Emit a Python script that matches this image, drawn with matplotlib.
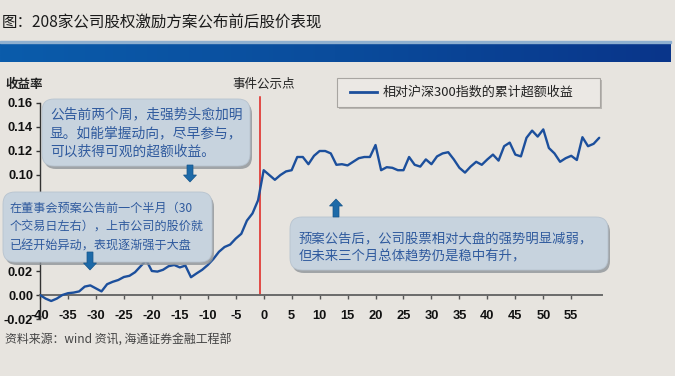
import matplotlib
matplotlib.use("Agg")
import matplotlib.pyplot as plt
import numpy as np
from matplotlib.patches import FancyBboxPatch, FancyArrow, Rectangle
from matplotlib.colors import LinearSegmentedColormap

plt.rcParams['font.family'] = ['Noto Sans CJK SC', 'DejaVu Sans']

# ---- data ----
days = list(range(-40, 61))
excess_return = [
    0.000, -0.003, -0.005, -0.003, 0.000, 0.0015, 0.002, 0.003, 0.007, 0.008,   # -40..-31
    0.0055, 0.003, 0.009, 0.011, 0.0125, 0.015, 0.016, 0.019, 0.024, 0.029,   # -30..-21
    0.020, 0.0195, 0.021, 0.024, 0.025, 0.023, 0.0245, 0.0148, 0.018, 0.021,  # -20..-11
    0.025, 0.030, 0.036, 0.040, 0.042, 0.047, 0.051, 0.062, 0.068, 0.079,     # -10..-1
    0.104, 0.100, 0.096, 0.100, 0.103, 0.104, 0.115, 0.115, 0.109, 0.116,     # 0..9
    0.120, 0.120, 0.118, 0.1085, 0.109, 0.108, 0.111, 0.114, 0.115, 0.115,    # 10..19
    0.125, 0.104, 0.1065, 0.106, 0.104, 0.104, 0.115, 0.1085, 0.107, 0.113,   # 20..29
    0.109, 0.1155, 0.118, 0.119, 0.113, 0.106, 0.102, 0.107, 0.111, 0.1085,   # 30..39
    0.113, 0.117, 0.112, 0.124, 0.127, 0.117, 0.1155, 0.131, 0.137, 0.132,    # 40..49
    0.138, 0.1225, 0.118, 0.111, 0.114, 0.116, 0.1125, 0.1315, 0.124, 0.126,  # 50..59
    0.131,                                                                     # 60
]
x_ticks = [-40, -35, -30, -25, -20, -15, -10, -5, 0, 5, 10, 15, 20, 25, 30, 35, 40, 45, 50, 55]
y_ticks = [-0.02, 0.00, 0.02, 0.04, 0.06, 0.08, 0.10, 0.12, 0.14, 0.16]
# labels hidden behind the callout box in the reference
y_hidden = [0.04, 0.06, 0.08]
event_day = -0.6

title = "图：208家公司股权激励方案公布前后股价表现"
series_name = "相对沪深300指数的累计超额收益"
y_label = "收益率"
event_label = "事件公示点"
source = "资料来源：wind 资讯, 海通证券金融工程部"
note1 = ["公告前两个周，走强势头愈加明", "显。如能掌握动向，尽早参与，", "可以获得可观的超额收益。"]
note2 = ["在董事会预案公告前一个半月（30", "个交易日左右），上市公司的股价就", "已经开始异动，表现逐渐强于大盘"]
note3 = ["预案公告后，公司股票相对大盘的强势明显减弱，", "但未来三个月总体趋势仍是稳中有升，"]

BG = "#e7e4df"
W, H = 675, 376
fig = plt.figure(figsize=(W / 100, H / 100), dpi=100, facecolor=BG)

# ---- main axes ----
ax = fig.add_axes([40 / W, (H - 319) / H, 562 / W, 216 / H], facecolor="none")
ax.plot(days, excess_return, color="#1c4f9c", lw=1.7, zorder=3, solid_capstyle="round")
ax.set_xlim(-40, 60.5)
ax.set_ylim(-0.02, 0.16)
ax.spines['top'].set_visible(False)
ax.spines['right'].set_visible(False)
ax.spines['bottom'].set_position(('data', 0))
ax.spines['bottom'].set_color("#6a6a6a")
ax.spines['bottom'].set_linewidth(1.4)
ax.spines['left'].set_color("#333333")
ax.spines['left'].set_linewidth(1.0)
ax.set_xticks(x_ticks)
ax.set_xticklabels([str(t) for t in x_ticks])
ax.set_yticks(y_ticks)
ax.set_yticklabels(["" if any(abs(t - h) < 1e-9 for h in y_hidden) else f"{t:.2f}" for t in y_ticks])
for lab in ax.get_xticklabels() + ax.get_yticklabels():
    lab.set_fontfamily("Liberation Sans")
    lab.set_fontweight("bold")
    lab.set_fontsize(9.3)
    lab.set_color("#111111")
ax.tick_params(axis='x', length=3, width=1, color="#555555", pad=8)
ax.tick_params(axis='y', length=3, width=1, color="#333333", pad=2)
# red event line from y=0 up to above the plot top
ax.axvline(event_day, ymin=(0 + 0.02) / 0.18, ymax=1.03, color="#e0201c", lw=1.1,
           zorder=2, clip_on=False)

# ---- overlay in pixel coordinates ----
ov = fig.add_axes([0, 0, 1, 1], zorder=5)
ov.set_xlim(0, W)
ov.set_ylim(H, 0)
ov.axis('off')
ov.patch.set_alpha(0)

# title bar
grad = np.linspace(0, 1, 256).reshape(1, -1)
cmap = LinearSegmentedColormap.from_list("bar", ["#0b5cab", "#0a4c9c", "#09358a"])
ov.imshow(grad, cmap=cmap, extent=[0, 671, 62, 42], aspect='auto', zorder=1)
ov.add_patch(Rectangle((0, 41), 671, 1.6, color="#8fb0d0", zorder=2))
ov.text(2, 23, title, fontsize=11.2, color="#1a1a1a", va='center', ha='left', fontweight='medium')

ov.text(5, 84, y_label, fontsize=9, color="#222222", va='center', ha='left', fontweight='bold')
ov.text(264, 84, event_label, fontsize=9, color="#222222", va='center', ha='center')
ov.text(5, 340, source, fontsize=8.6, color="#444444", va='center', ha='left')

# legend box
ov.add_patch(Rectangle((339, 80), 263, 29, facecolor="#b9b6b2", edgecolor="none", zorder=2))
ov.add_patch(Rectangle((337, 78), 263, 29, facecolor="#ebe8e4", edgecolor="#a8a5a1", lw=0.8, zorder=3))
ov.plot([350, 377], [92, 92], color="#1c4f9c", lw=2, zorder=4)
ov.text(383, 92.5, series_name, fontsize=9.4, color="#222222", va='center', ha='left', zorder=4)


def callout(x0, y0, x1, y1, lines, fs, tx, ty0, dy):
    shadow = FancyBboxPatch((x0 + 2, y0 + 3), x1 - x0, y1 - y0,
                            boxstyle="round,pad=0,rounding_size=12",
                            facecolor="#8f9499", edgecolor="none", alpha=0.8, zorder=3)
    box = FancyBboxPatch((x0, y0), x1 - x0, y1 - y0,
                         boxstyle="round,pad=0,rounding_size=12",
                         facecolor="#c7d3de", edgecolor="#b7c3cf", lw=0.6, zorder=4)
    ov.add_patch(shadow)
    ov.add_patch(box)
    for i, s in enumerate(lines):
        ov.text(tx, ty0 + i * dy, s, fontsize=fs, color="#2f5a9e", va='center', ha='left', zorder=5)


callout(42, 99, 250, 166, note1, 9.9, 50, 114, 19)
callout(3, 192, 212, 262, note2, 8.7, 10, 208, 19)
callout(290, 217, 608, 270, note3, 9.6, 299, 238, 18)


def block_arrow(x, ytail, yhead):
    d = yhead - ytail
    ov.add_patch(FancyArrow(x, ytail, 0, d, width=6, head_width=13, head_length=7,
                            length_includes_head=True, facecolor="#1d6aa8",
                            edgecolor="#15548a", lw=0.5, zorder=6))


block_arrow(190, 165, 182)
block_arrow(90, 252, 270)
block_arrow(336, 217, 199)

fig.savefig("out.png", dpi=100, facecolor=BG)
